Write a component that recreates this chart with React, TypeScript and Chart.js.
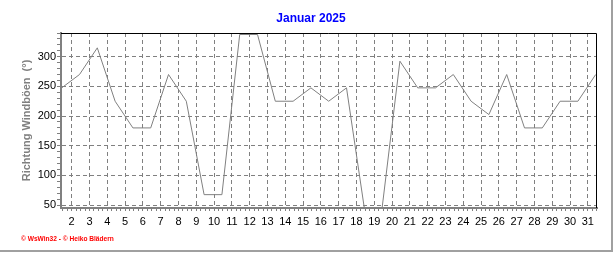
import React, { useEffect, useRef } from 'react';
import { Chart, registerables } from 'chart.js';

Chart.register(...registerables);

// ---- data ----
const chartTitle = 'Januar 2025';
const yAxisTitle = 'Richtung Windböen  (°)';
const creditText = '© WsWin32 - © Heiko Blädern';
const days = [1, 2, 3, 4, 5, 6, 7, 8, 9, 10, 11, 12, 13, 14, 15, 16, 17, 18, 19, 20, 21, 22, 23, 24, 25, 26, 27, 28, 29, 30, 31];
const gustDirection = [
  247.5, 270, 315, 225, 180, 180, 270, 225, 67.5, 67.5, 337.5, 337.5, 225, 225, 247.5, 225,
  247.5, 45, 45, 292.5, 247.5, 247.5, 270, 225, 202.5, 270, 180, 180, 225, 225, 270,
];
const xLabelDays = [2, 3, 4, 5, 6, 7, 8, 9, 10, 11, 12, 13, 14, 15, 16, 17, 18, 19, 20, 21, 22, 23, 24, 25, 26, 27, 28, 29, 30, 31];
const yLabelValues = [50, 100, 150, 200, 250, 300];
const yMin = 45;
const yMax = 340;
const xMin = 1.4;
const xMax = 31.513;
const sampleTimeOfDay = 0.44; // fraction of a day at which the daily value is plotted

const GRID = '#808080';
const FONT = 'Arial, "Liberation Sans", sans-serif';

const framePlugin = {
  id: 'frame',
  afterDatasetsDraw(chart: any) {
    const { ctx, chartArea } = chart;
    ctx.save();
    ctx.strokeStyle = '#000000';
    ctx.lineWidth = 1;
    ctx.beginPath();
    ctx.moveTo(chartArea.left, Math.round(chartArea.top) + 0.5);
    ctx.lineTo(Math.round(chartArea.right) - 0.5, Math.round(chartArea.top) + 0.5);
    ctx.lineTo(Math.round(chartArea.right) - 0.5, chartArea.bottom);
    ctx.stroke();
    ctx.restore();
  },
  afterDraw(chart: any) {
    const { ctx } = chart;
    ctx.save();
    ctx.fillStyle = '#a0a0a0';
    ctx.fillRect(611, 0, 2, 252);
    ctx.fillRect(0, 250, 613, 2);
    ctx.fillStyle = '#ff0000';
    ctx.font = `bold 6.6px ${FONT}`;
    ctx.textBaseline = 'alphabetic';
    ctx.textAlign = 'left';
    ctx.fillText(creditText, 21, 241);
    ctx.restore();
  },
};

export default function App() {
  const ref = useRef<HTMLCanvasElement | null>(null);

  useEffect(() => {
    if (!ref.current) return;
    const xTicks: number[] = [];
    for (let v = 1.5; v <= xMax; v += 0.25) xTicks.push(v);
    const yTicks: number[] = [];
    for (let v = 50; v <= yMax; v += 10) yTicks.push(v);

    const chart = new Chart(ref.current, {
      type: 'line',
      data: {
        datasets: [
          {
            data: days.map((d, i) => ({ x: d + sampleTimeOfDay, y: gustDirection[i] })),
            borderColor: '#808080',
            borderWidth: 1,
            pointRadius: 0,
            tension: 0,
            fill: false,
          },
        ],
      },
      options: {
        animation: false,
        responsive: false,
        devicePixelRatio: 1,
        layout: { padding: { left: 6, right: 0, top: 0, bottom: 0 } },
        plugins: {
          legend: { display: false },
          tooltip: { enabled: false },
          title: {
            display: true,
            text: chartTitle,
            color: '#0000ff',
            font: { family: FONT, size: 12, weight: 'bold' },
            padding: { top: 11, bottom: 7.6 },
          },
        },
        scales: {
          x: {
            type: 'linear',
            min: xMin,
            max: xMax,
            afterBuildTicks: (axis: any) => {
              axis.ticks = xTicks.map((v) => ({ value: v }));
            },
            afterFit: (axis: any) => {
              axis.height = 45;
            },
            ticks: {
              autoSkip: false,
              maxRotation: 0,
              minRotation: 0,
              padding: 4,
              color: '#000000',
              font: { family: FONT, size: 11 },
              callback: (v: any) => (xLabelDays.includes(v) ? String(v) : ''),
            },
            grid: {
              color: (c: any) => (c.tick && Number.isInteger(c.tick.value) ? GRID : 'transparent'),
              tickColor: GRID,
              tickLength: 3,
              lineWidth: 1,
            },
            border: { display: true, color: GRID, width: 2, dash: [4, 3] },
          },
          y: {
            type: 'linear',
            min: yMin,
            max: yMax,
            afterBuildTicks: (axis: any) => {
              axis.ticks = yTicks.map((v) => ({ value: v }));
            },
            afterFit: (axis: any) => {
              axis.width = 55;
            },
            title: {
              display: true,
              text: yAxisTitle,
              color: '#808080',
              font: { family: FONT, size: 11, weight: 'bold' },
              padding: { top: 14, bottom: 0 },
            },
            ticks: {
              autoSkip: false,
              padding: 1,
              color: '#000000',
              font: { family: FONT, size: 11 },
              callback: (v: any) => (yLabelValues.includes(v) ? String(v) : ''),
            },
            grid: {
              color: (c: any) => (c.tick && yLabelValues.includes(c.tick.value) ? GRID : 'transparent'),
              tickColor: GRID,
              tickLength: 4,
              lineWidth: 1,
            },
            border: { display: true, color: GRID, width: 2, dash: [4, 3] },
          },
          yRight: {
            type: 'linear',
            position: 'right',
            display: true,
            afterFit: (axis: any) => {
              axis.width = 19;
            },
            ticks: { display: false },
            grid: { display: false },
            border: { display: false },
          },
        },
      },
      plugins: [framePlugin],
    } as any);
    return () => chart.destroy();
  }, []);

  return (
    <div style={{ position: 'fixed', left: 0, top: 0, width: 616, height: 253, background: '#ffffff' }}>
      <canvas ref={ref} width={616} height={253} />
    </div>
  );
}
